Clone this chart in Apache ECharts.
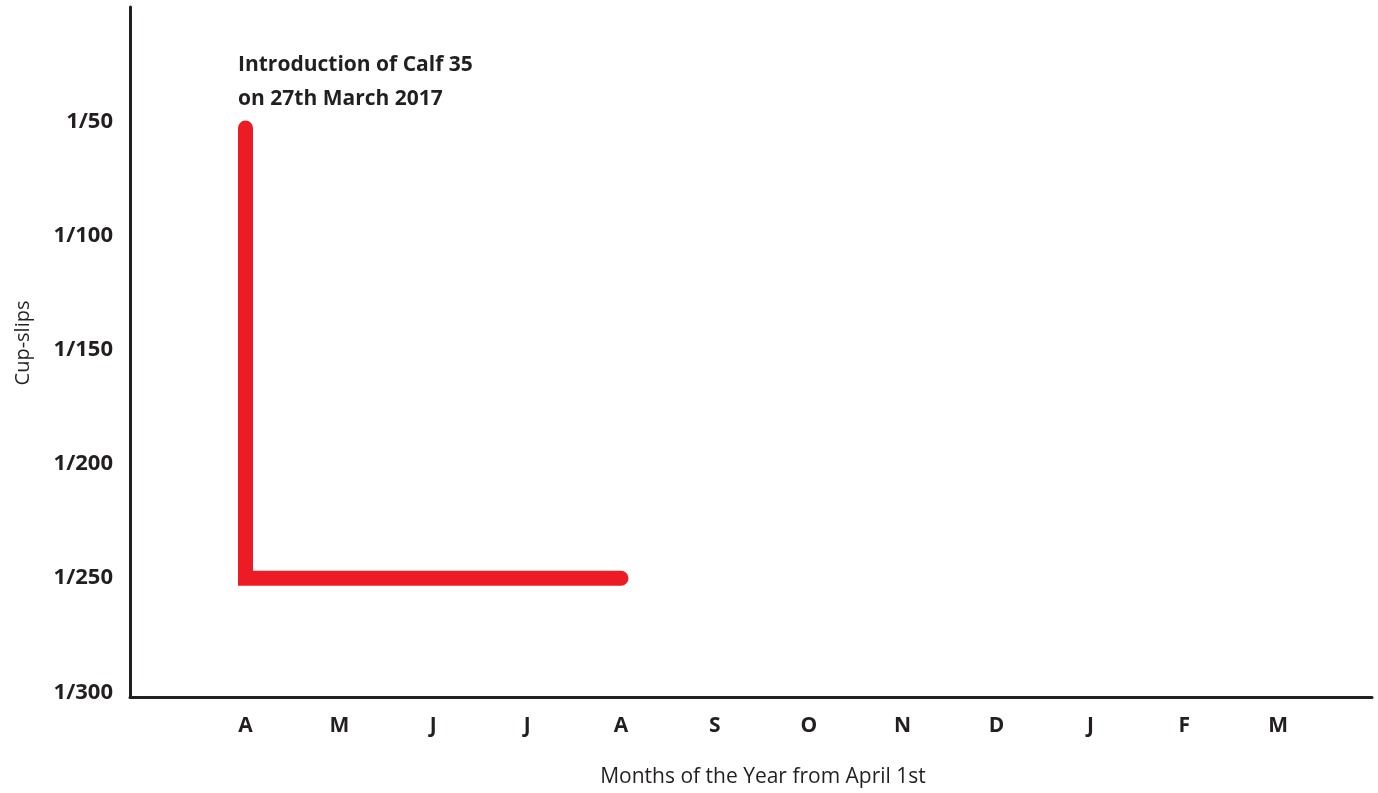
<!DOCTYPE html>
<html>
<head>
<meta charset="utf-8">
<script src="https://cdn.jsdelivr.net/npm/echarts@6/dist/echarts.min.js"></script>
<style>
html,body{margin:0;padding:0;background:#fff;}
#chart{width:1378px;height:793px;}
</style>
</head>
<body>
<div id="chart"></div>
<script>
// Data
var monthLabels = ['A','M','J','J','A','S','O','N','D','J','F','M'];
var monthTicks = [0,1,2,3,4,5,6,7,8,9,10,11];
var cupSlipTicks = [50,100,150,200,250,300];
var seriesX = [0, 0, 4];          // month index (0 = April)
var seriesY = [53, 250, 250];     // cup-slips denominator (1/x)
var annotationLines = ['Introduction of Calf 35', 'on 27th March 2017'];
var xAxisTitle = 'Months of the Year from April 1st';
var yAxisTitle = 'Cup-slips';

var lineData = seriesX.map(function(x, i){ return [x, seriesY[i]]; });

var chart = echarts.init(document.getElementById('chart'));
var axisColor = '#231f20';
var font = 'Open Sans';
chart.setOption({
  backgroundColor: '#ffffff',
  animation: false,
  title: {
    text: annotationLines.join('\n'),
    left: 233,
    top: 43,
    textStyle: {
      fontFamily: font,
      fontWeight: 'bold',
      fontSize: 21,
      lineHeight: 34,
      color: axisColor
    }
  },
  grid: { left: 130, right: 6, top: 7, bottom: 92.5, containLabel: false },
  xAxis: {
    type: 'value',
    min: -1.2305,
    max: 12,
    name: xAxisTitle,
    nameLocation: 'middle',
    nameGap: 70,
    nameTextStyle: {
      fontFamily: font,
      fontSize: 21,
      color: axisColor,
      padding: [0, 0, 0, 24]
    },
    axisLine: { show: true, onZero: false, lineStyle: { color: axisColor, width: 3 } },
    axisTick: { show: false },
    splitLine: { show: false },
    axisLabel: {
      customValues: monthTicks,
      formatter: function(v){ return monthLabels[Math.round(v)]; },
      margin: 19,
      fontFamily: font,
      fontWeight: 'bold',
      fontSize: 21,
      color: axisColor
    }
  },
  yAxis: {
    type: 'value',
    inverse: true,
    min: 0,
    max: 302,
    name: yAxisTitle,
    nameLocation: 'middle',
    nameGap: 97,
    nameRotate: 90,
    nameTextStyle: {
      fontFamily: font,
      fontSize: 20,
      color: axisColor,
      padding: [0, 0, 0, 18]
    },
    axisLine: { show: true, onZero: false, lineStyle: { color: axisColor, width: 3 } },
    axisTick: { show: false },
    splitLine: { show: false },
    axisLabel: {
      customValues: cupSlipTicks,
      formatter: function(v){ return '1/' + v; },
      margin: 17,
      fontFamily: font,
      fontWeight: 'bold',
      fontSize: 22,
      color: axisColor
    }
  },
  series: [{
    type: 'line',
    data: lineData,
    showSymbol: false,
    symbol: 'none',
    lineStyle: { color: '#ED1C24', width: 15, cap: 'round', join: 'miter' },
    z: 3
  }]
});
</script>
</body>
</html>
